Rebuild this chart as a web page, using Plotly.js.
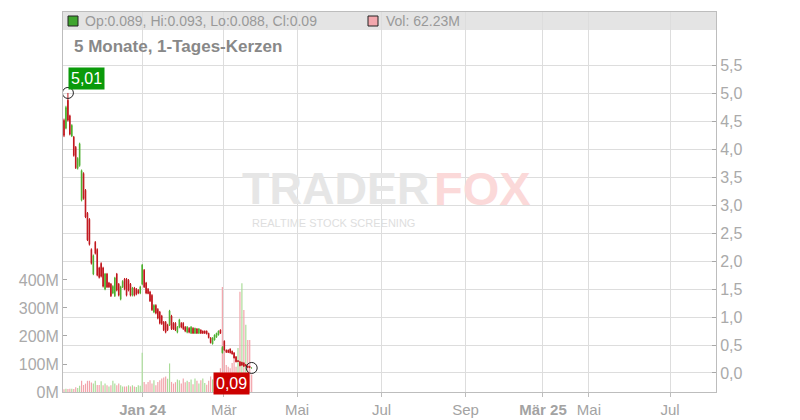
<!DOCTYPE html>
<html><head><meta charset="utf-8">
<script src="https://cdn.plot.ly/plotly-3.0.1.min.js"></script>
<style>html,body{margin:0;padding:0;background:#fff}#chart{width:800px;height:420px}</style>
</head><body><div id="chart"></div>
<script>
// ---- data (daily candles, price in EUR, volume in millions) ----
const openP  = [4.52,4.38,4.88,4.60,4.24,4.22,4.04,3.66,3.71,3.09,3.57,3.27,2.86,2.75,2.21,1.77,2.34,2.21,1.88,1.96,1.88,1.50,1.77,1.61,1.59,1.43,1.38,1.77,1.59,1.32,1.54,1.68,1.68,1.66,1.59,1.39,1.52,1.50,1.48,1.43,1.59,1.84,1.61,1.50,1.45,1.39,1.09,1.21,1.14,1.09,1.02,0.91,0.91,0.86,0.86,1.02,0.89,0.89,0.73,0.82,0.89,0.89,0.82,0.73,0.80,0.71,0.80,0.71,0.79,0.71,0.77,0.75,0.75,0.75,0.71,0.63,0.52,0.59,0.64,0.68,0.77,0.36,0.57,0.41,0.41,0.43,0.39,0.36,0.29,0.22,0.20,0.19,0.18,0.15,0.125,0.12,0.089];
const highP  = [4.55,4.78,5.01,4.62,4.45,4.24,4.06,3.86,4.12,3.64,3.59,3.29,2.88,2.77,2.23,2.12,2.36,2.23,1.90,1.98,1.90,1.79,1.79,1.63,1.61,1.57,1.72,1.79,1.61,1.56,1.66,1.70,1.70,1.68,1.61,1.54,1.54,1.52,1.50,1.56,1.95,1.86,1.63,1.52,1.47,1.41,1.23,1.23,1.16,1.11,1.04,0.93,0.93,0.88,1.13,1.04,0.91,0.91,0.84,0.97,0.91,0.91,0.84,0.84,0.82,0.84,0.82,0.81,0.80,0.80,0.78,0.76,0.76,0.76,0.72,0.64,0.64,0.69,0.72,0.76,0.78,0.48,0.58,0.42,0.42,0.44,0.40,0.37,0.30,0.23,0.21,0.20,0.19,0.16,0.13,0.125,0.093];
const lowP   = [4.22,4.36,4.50,4.25,4.22,3.87,3.65,3.64,3.69,3.07,3.10,2.77,2.36,2.28,1.94,1.75,2.12,1.73,1.69,1.71,1.53,1.48,1.52,1.52,1.36,1.41,1.36,1.46,1.37,1.30,1.52,1.48,1.37,1.46,1.37,1.37,1.37,1.39,1.41,1.41,1.57,1.52,1.41,1.41,1.27,1.11,1.07,1.05,0.96,0.87,0.86,0.75,0.71,0.75,0.84,0.77,0.77,0.75,0.71,0.80,0.80,0.77,0.73,0.71,0.71,0.70,0.70,0.70,0.70,0.70,0.70,0.70,0.70,0.69,0.62,0.53,0.51,0.58,0.63,0.67,0.70,0.35,0.40,0.36,0.36,0.35,0.33,0.26,0.19,0.20,0.12,0.13,0.11,0.12,0.09,0.09,0.088];
const closeP = [4.25,4.75,4.52,4.27,4.43,3.89,3.67,3.84,4.10,3.62,3.12,2.79,2.38,2.30,1.96,2.10,2.14,1.75,1.71,1.73,1.55,1.77,1.54,1.54,1.38,1.55,1.70,1.48,1.39,1.54,1.64,1.50,1.39,1.48,1.39,1.52,1.39,1.41,1.43,1.54,1.93,1.54,1.43,1.42,1.29,1.13,1.21,1.07,0.98,0.89,0.88,0.77,0.73,0.77,1.11,0.79,0.78,0.77,0.82,0.95,0.82,0.79,0.75,0.82,0.73,0.82,0.71,0.80,0.71,0.79,0.71,0.71,0.71,0.70,0.63,0.54,0.63,0.68,0.71,0.75,0.71,0.46,0.41,0.37,0.365,0.36,0.34,0.27,0.20,0.205,0.13,0.14,0.12,0.125,0.10,0.095,0.09];
const volumeM = [10,12,11,12,12,11,17,14,22,40,25,30,40,40,34,30,40,25,25,38,24,30,24,20,24,40,30,24,30,24,20,20,20,24,20,24,20,18,24,22,140,36,28,36,42,30,42,24,36,42,48,52,55,47,102,36,30,35,45,42,30,48,35,40,36,45,28,48,40,30,42,48,32,26,40,55,45,34,55,36,85,375,185,96,90,85,104,126,90,157,358,388,293,240,186,186,62.23];

const tickLabels = ['<b>Jan 24</b>','Mär','Mai','Jul','Sep','<b>Mär 25</b>','Mai','Jul'];
const tickIndex  = [40.2, 81.8, 119.2, 162.4, 205.4, 245, 268.5, 310];
const priceTicks = [0,0.5,1,1.5,2,2.5,3,3.5,4,4.5,5,5.5];
const volTicks   = [0,100,200,300,400];
const chartTitle = '5 Monate, 1-Tages-Kerzen';

// ---- derived ----
const n = closeP.length;
const idx = closeP.map((_, i) => i);
const UP = '#4caf2e', DOWN = '#c0141b';
const VUP = '#a9dc98', VDOWN = '#f2a3aa';
const volColors = closeP.map((c, i) => (i > 0 && c >= closeP[i - 1]) ? VUP : VDOWN);
let hiIdx = 0; highP.forEach((h, i) => { if (h > highP[hiIdx]) hiIdx = i; });
const last = n - 1;
const fmtComma = v => v.toFixed(2).replace('.', ',');

const L = 63, R = 716, T = 12, B = 392;
const px = x => (x - L) / (R - L);
const py = y => (B - y) / (B - T);

const traces = [
  { type: 'bar', x: idx, y: volumeM, xaxis: 'x', yaxis: 'y',
    marker: { color: volColors, line: { width: 0 } }, width: 0.6, hoverinfo: 'skip' },
  { type: 'candlestick', x: idx, open: openP, high: highP, low: lowP, close: closeP,
    xaxis: 'x', yaxis: 'y2', whiskerwidth: 0,
    increasing: { line: { color: UP, width: 1 }, fillcolor: UP },
    decreasing: { line: { color: DOWN, width: 1 }, fillcolor: DOWN },
    hoverinfo: 'skip' },
  { type: 'scatter', mode: 'markers', x: [hiIdx, last], y: [highP[hiIdx], closeP[last]],
    xaxis: 'x', yaxis: 'y2',
    marker: { symbol: 'circle-open', size: 11, color: '#222', line: { width: 1, color: '#222' } },
    hoverinfo: 'skip' }
];

const gridC = '#dddddd', lineC = '#bdbdbd', tickC = '#a8a8a8';
const font = 'Liberation Sans, Arial, sans-serif';

const layout = {
  width: 800, height: 420,
  margin: { l: L, r: 800 - R, t: T, b: 420 - B, pad: 0 },
  paper_bgcolor: '#fff', plot_bgcolor: '#fff',
  showlegend: false,
  separators: ',.',
  boxgap: 0.55,
  font: { family: font, color: '#aaa' },
  xaxis: {
    range: [-0.51, 333.5], tickmode: 'array', tickvals: tickIndex, ticktext: tickLabels,
    showgrid: true, gridcolor: gridC, gridwidth: 1, zeroline: false,
    showline: true, linecolor: lineC, mirror: true,
    ticks: 'outside', ticklen: 4, tickcolor: lineC,
    tickfont: { size: 15, color: '#a3a3a3', family: font },
    rangeslider: { visible: false }, fixedrange: true
  },
  yaxis: {
    range: [0, 1357], side: 'left', tickmode: 'array', tickvals: volTicks,
    ticktext: volTicks.map(v => v + 'M'),
    showgrid: false, zeroline: false, showline: true, linecolor: lineC,
    ticks: 'inside', ticklen: 4, tickcolor: tickC,
    tickfont: { size: 16, color: '#aaa', family: font }, fixedrange: true
  },
  yaxis2: {
    overlaying: 'y', side: 'right', range: [-0.34, 6.458],
    tickmode: 'array', tickvals: priceTicks, tickformat: '.1f',
    showgrid: true, gridcolor: gridC, gridwidth: 1, zeroline: false,
    showline: true, linecolor: lineC,
    ticks: 'inside', ticklen: 4, tickcolor: tickC,
    tickfont: { size: 16, color: '#aaa', family: font }, fixedrange: true
  },
  shapes: [
    { type: 'rect', xref: 'paper', yref: 'paper', x0: 0, x1: 1, y0: py(30), y1: 1,
      fillcolor: '#e4e4e4', line: { width: 0 }, layer: 'below' },
    { type: 'rect', xref: 'paper', yref: 'paper', x0: px(68), x1: px(78), y0: py(26), y1: py(16),
      fillcolor: '#3fa52e', line: { width: 1, color: '#222' } },
    { type: 'rect', xref: 'paper', yref: 'paper', x0: px(368), x1: px(378), y0: py(26), y1: py(16),
      fillcolor: '#f2a7ad', line: { width: 1, color: '#222' } }
  ],
  annotations: [
    { xref: 'paper', yref: 'paper', x: px(240), y: py(188), xanchor: 'left', yanchor: 'middle',
      text: '<b>TRADER</b>', showarrow: false, font: { size: 45, color: '#e6e6e6', family: font } },
    { xref: 'paper', yref: 'paper', x: px(432), y: py(188), xanchor: 'left', yanchor: 'middle',
      text: '<b>FOX</b>', showarrow: false, font: { size: 47, color: '#fbd9d9', family: font } },
    { xref: 'paper', yref: 'paper', x: px(250), y: py(223), xanchor: 'left', yanchor: 'middle',
      text: 'REALTIME STOCK SCREENING', showarrow: false, font: { size: 11, color: '#dedede', family: font } },
    { xref: 'paper', yref: 'paper', x: px(83), y: py(21), xanchor: 'left', yanchor: 'middle',
      text: 'Op:' + openP[last] + ', Hi:' + highP[last] + ', Lo:' + lowP[last] + ', Cl:' + closeP[last],
      showarrow: false, font: { size: 14, color: '#999', family: font } },
    { xref: 'paper', yref: 'paper', x: px(384), y: py(21), xanchor: 'left', yanchor: 'middle',
      text: 'Vol: ' + volumeM[last].toFixed(2) + 'M',
      showarrow: false, font: { size: 14, color: '#999', family: font } },
    { xref: 'paper', yref: 'paper', x: px(72), y: py(47), xanchor: 'left', yanchor: 'middle',
      text: '<b>' + chartTitle + '</b>', showarrow: false, font: { size: 17, color: '#888', family: font } },
    { xref: 'x', yref: 'y2', x: hiIdx, y: highP[hiIdx], xanchor: 'left', yanchor: 'bottom',
      xshift: 0, yshift: 3, text: fmtComma(highP[hiIdx]), showarrow: false,
      bgcolor: '#0a9a0a', borderpad: 2, font: { size: 16, color: '#fff', family: font } },
    { xref: 'x', yref: 'y2', x: last, y: closeP[last], xanchor: 'right', yanchor: 'top',
      xshift: -2, yshift: -4, text: fmtComma(closeP[last]), showarrow: false,
      bgcolor: '#cc0000', borderpad: 2, font: { size: 16, color: '#fff', family: font } }
  ]
};

Plotly.newPlot('chart', traces, layout, { staticPlot: true, displayModeBar: false });
</script>
</body></html>
